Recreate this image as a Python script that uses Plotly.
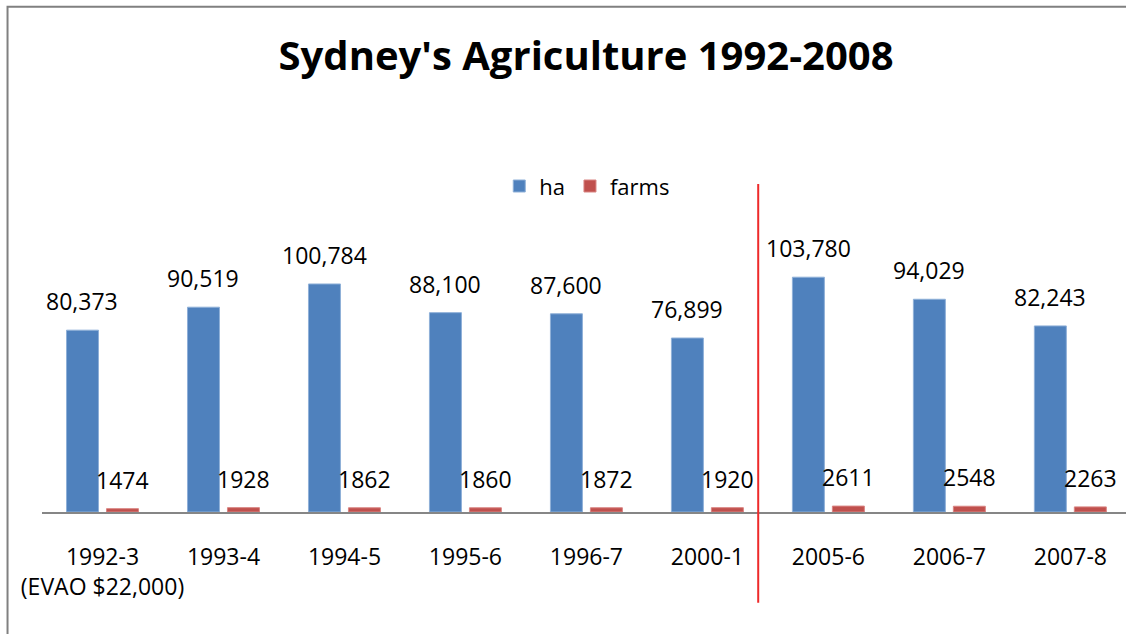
import plotly.graph_objects as go

categories = ["1992-3<br>(EVAO $22,000)", "1993-4", "1994-5", "1995-6", "1996-7",
              "2000-1", "2005-6", "2006-7", "2007-8"]
ha = [80373, 90519, 100784, 88100, 87600, 76899, 103780, 94029, 82243]
farms = [1474, 1928, 1862, 1860, 1872, 1920, 2611, 2548, 2263]

BLUE = "#4F81BD"
RED = "#C0504D"
FONT = "Open Sans, Noto Sans, sans-serif"

fig = go.Figure()
fig.add_trace(go.Bar(name="ha", x=categories, y=ha, marker_color=BLUE,
                     marker_line=dict(color="#8fb0d8", width=1)))
fig.add_trace(go.Bar(name="farms", x=categories, y=farms, marker_color=RED,
                     marker_line=dict(color="#d98583", width=1)))

for c, v in zip(categories, ha):
    fig.add_annotation(x=c, y=v, text=f"{v:,}", showarrow=False, xref="x", yref="y",
                       yanchor="bottom", xshift=-20, yshift=11,
                       font=dict(family=FONT, size=23, color="#000"))
for c, v in zip(categories, farms):
    fig.add_annotation(x=c, y=v, text=f"{v}", showarrow=False, xref="x", yref="y",
                       yanchor="bottom", xshift=20, yshift=11,
                       font=dict(family=FONT, size=23, color="#000"))

# red divider line between 2000-1 and 2005-6
fig.add_shape(type="line", xref="x", yref="paper", x0=5.42, x1=5.42, y0=0.906, y1=-0.251,
              line=dict(color="#ee2a2a", width=2))
# chart frame as a single open path (top and left edges only)
fig.add_shape(type="path", xref="paper", yref="paper",
              path="M -0.0318,-0.337 L -0.0318,1.396 L 1.0,1.396",
              line=dict(color="#808080", width=2))

fig.update_layout(
    width=1126, height=634,
    margin=dict(l=42, r=0, t=150, b=122),
    paper_bgcolor="white", plot_bgcolor="white",
    barmode="group", bargap=0.339, bargroupgap=0.2,
    title=dict(text="<b>Sydney's Agriculture 1992-2008</b>", x=0.5205, xanchor="center",
               y=0.912, yanchor="middle", font=dict(family=FONT, size=40, color="#000")),
    legend=dict(orientation="h", x=0.503, xanchor="center", y=0.90, yanchor="middle",
                font=dict(family=FONT, size=22, color="#000"), bgcolor="rgba(0,0,0,0)",
                borderwidth=0),
    showlegend=True,
    xaxis=dict(type="category", range=[-0.5, 8.46], showline=True, linecolor="#868686",
               linewidth=2, ticks="", showgrid=False, ticklabelstandoff=23,
               tickfont=dict(family=FONT, size=23, color="#000")),
    yaxis=dict(range=[0, 160000], visible=False, showgrid=False, showline=False,
               zeroline=False),
    font=dict(family=FONT),
)

fig.write_html("out.html", config={"displayModeBar": False},
               post_script=("document.documentElement.style.overflow='hidden';"
                            "document.body.style.margin='0';"
                            "document.body.style.overflow='hidden';"))
